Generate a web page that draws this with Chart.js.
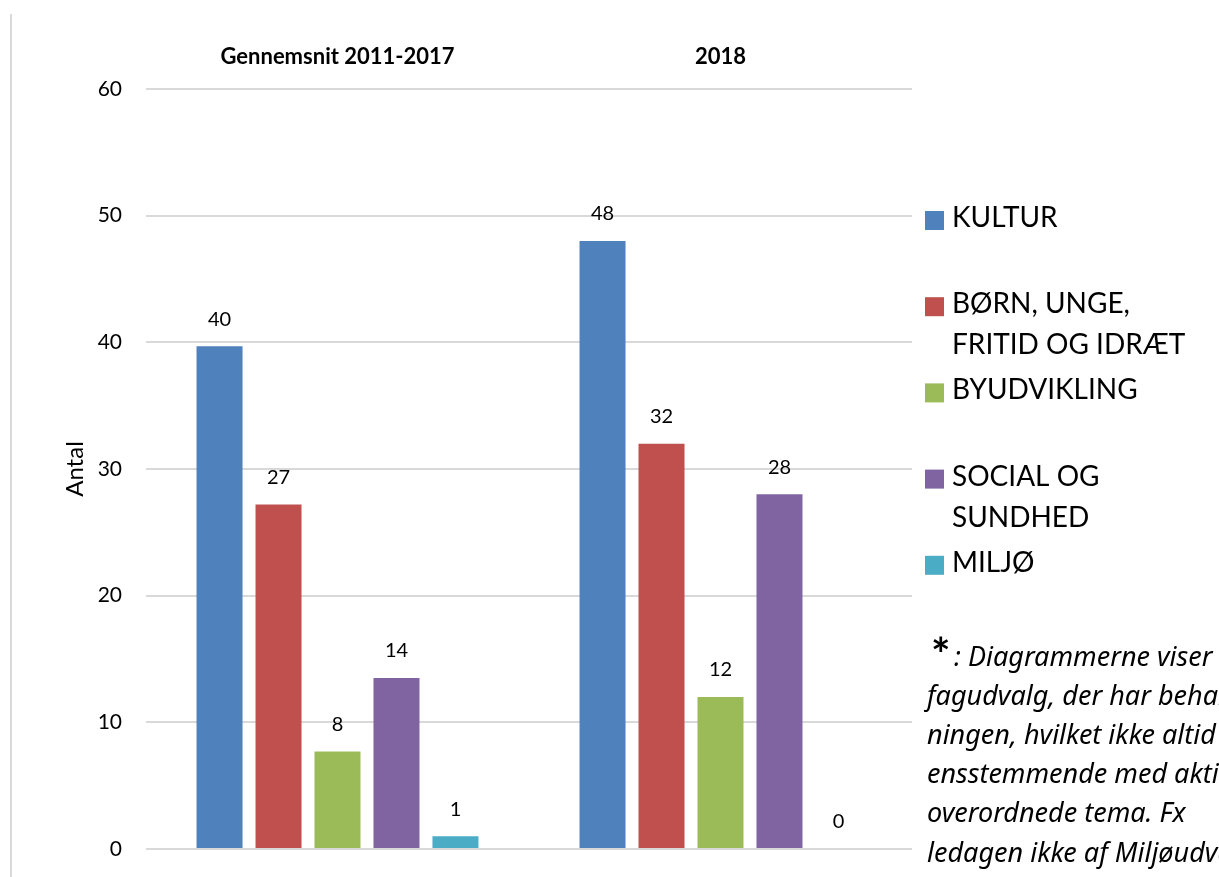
<!DOCTYPE html>
<html>
<head>
<meta charset="utf-8">
<script src="https://cdn.jsdelivr.net/npm/chart.js@4/dist/chart.umd.min.js"></script>
<style>
  html, body { margin: 0; padding: 0; background: #fff; }
  #wrap { position: relative; width: 1219px; height: 877px; }
</style>
</head>
<body>
<div id="wrap"><canvas id="chart" width="1219" height="877"></canvas></div>
<script>
const categories = ['Gennemsnit 2011-2017', '2018'];

const seriesNames = [
  ['KULTUR'],
  ['BØRN, UNGE,', 'FRITID OG IDRÆT'],
  ['BYUDVIKLING'],
  ['SOCIAL OG', 'SUNDHED'],
  ['MILJØ'],
];
const seriesColors = ['#4F81BD', '#C0504D', '#9BBB59', '#8064A2', '#4BACC6'];

const kulturValues = [39.7, 48];
const boernValues = [27.2, 32];
const byudviklingValues = [7.7, 12];
const socialValues = [13.5, 28];
const miljoValues = [1.0, 0];

const yTicks = [0, 10, 20, 30, 40, 50, 60];

const footnoteLines = [
  ': Diagrammerne viser',
  'fagudvalg, der har behandlet',
  'ningen, hvilket ikke altid er',
  'ensstemmende med aktivitetens',
  'overordnede tema. Fx',
  'ledagen ikke af Miljøudvalget',
  'af andre udvalg',
];

const FONT = 'Lato, "Noto Sans", sans-serif';
const allValues = [kulturValues, boernValues, byudviklingValues, socialValues, miljoValues];

const borderLinePlugin = {
  id: 'borderLine',
  beforeDraw(chart) {
    const ctx = chart.ctx;
    ctx.save();
    ctx.strokeStyle = '#d9d9d9';
    ctx.lineWidth = 2;
    ctx.beginPath();
    ctx.moveTo(11, 14);
    ctx.lineTo(11, chart.height);
    ctx.stroke();
    ctx.restore();
  },
};

const valueLabelPlugin = {
  id: 'valueLabels',
  afterDatasetsDraw(chart) {
    const ctx = chart.ctx;
    ctx.save();
    ctx.font = '20px ' + FONT;
    ctx.fillStyle = '#000';
    ctx.textAlign = 'center';
    ctx.textBaseline = 'middle';
    chart.data.datasets.forEach((dataset, i) => {
      chart.getDatasetMeta(i).data.forEach((bar, j) => {
        ctx.fillText(String(Math.round(dataset.data[j])), bar.x, bar.y - 27);
      });
    });
    ctx.restore();
  },
};

const sideLegendPlugin = {
  id: 'sideLegend',
  afterDraw(chart) {
    const ctx = chart.ctx;
    ctx.save();
    ctx.font = '28px ' + FONT;
    ctx.textBaseline = 'middle';
    ctx.textAlign = 'left';
    const slot = 43.1;
    let y = 218;
    chart.data.datasets.forEach((dataset) => {
      ctx.fillStyle = dataset.backgroundColor;
      ctx.fillRect(925, y - 7, 19, 19);
      ctx.fillStyle = '#000';
      dataset.legendLines.forEach((line, k) => {
        ctx.fillText(line, 952, y + k * 41);
      });
      y += Math.max(dataset.legendLines.length, 2) * slot;
    });

    // footnote
    ctx.font = 'bold 46px ' + FONT;
    ctx.fillText('*', 931, 656);
    ctx.font = 'italic 27px "Noto Sans", sans-serif';
    footnoteLines.forEach((line, k) => {
      const x = k === 0 ? 954 : 927;
      ctx.fillText(line, x, 658 + k * 39.2);
    });
    ctx.restore();
  },
};

function createDatasets() {
  return seriesNames.map((lines, i) => ({
    label: lines.join(' '),
    legendLines: lines,
    data: allValues[i],
    backgroundColor: seriesColors[i],
    borderWidth: 0,
    categoryPercentage: 0.77,
    barPercentage: 0.78,
  }));
}

function createChartScales() {
  return {
    x: {
      position: 'top',
      grid: { display: false },
      border: { display: false },
      ticks: {
        color: '#000',
        font: { family: FONT, size: 22, weight: 'bold' },
        padding: 11,
      },
      afterFit(scale) {
        scale.height = 89;
      },
    },
    y: {
      min: 0,
      max: 60,
      afterBuildTicks(scale) {
        scale.ticks = yTicks.map((v) => ({ value: v }));
      },
      grid: { color: '#d9d9d9', lineWidth: 2, drawTicks: false },
      border: { display: false },
      ticks: {
        color: '#000',
        font: { family: FONT, size: 21 },
        padding: 24,
      },
      title: {
        display: true,
        text: 'Antal',
        color: '#000',
        font: { family: FONT, size: 24 },
        padding: { top: 61, bottom: 0 },
      },
      afterFit(scale) {
        scale.width = 146;
        scale.paddingTop = 0;
        scale.paddingBottom = 0;
      },
    },
  };
}

new Chart(document.getElementById('chart').getContext('2d'), {
  type: 'bar',
  data: {
    labels: categories,
    datasets: createDatasets(),
  },
  options: {
    responsive: false,
    animation: false,
    layout: { padding: { left: 0, top: 0, right: 307, bottom: 28 } },
    scales: createChartScales(),
    plugins: {
      legend: { display: false },
      tooltip: { enabled: false },
    },
  },
  plugins: [borderLinePlugin, valueLabelPlugin, sideLegendPlugin],
});
</script>
</body>
</html>
